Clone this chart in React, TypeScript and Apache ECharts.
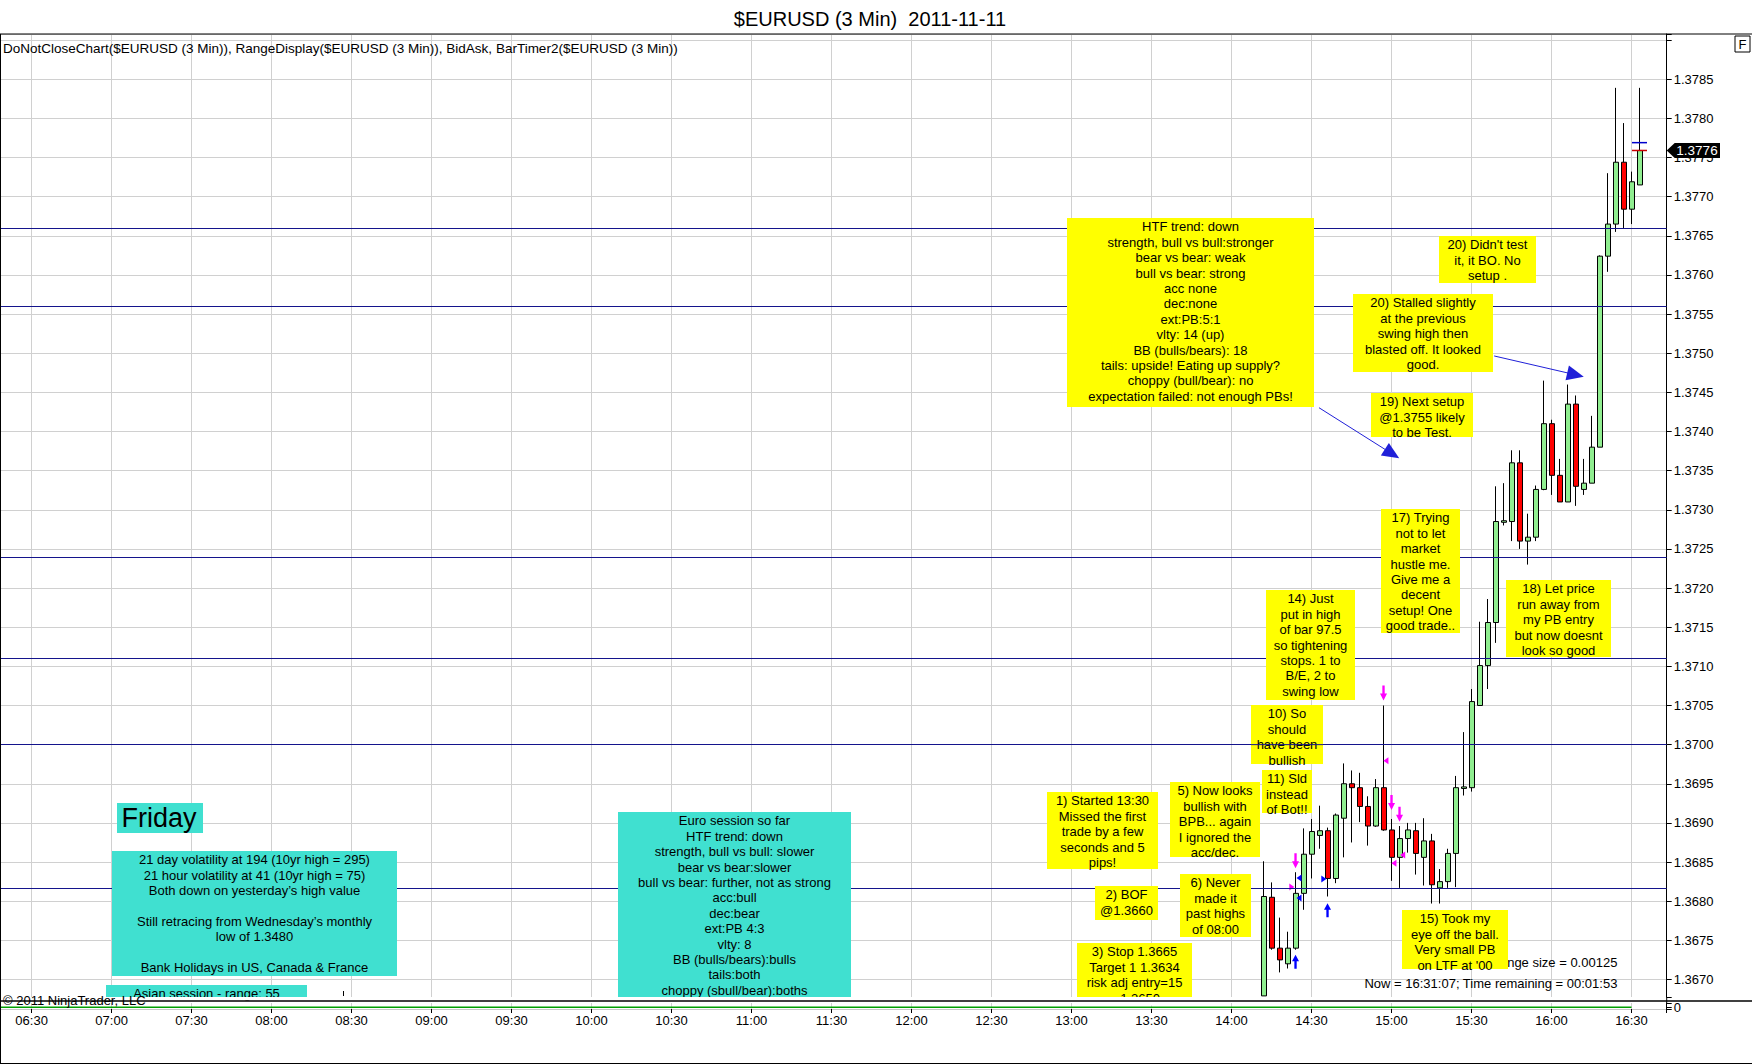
import React, { useEffect, useRef } from 'react';
import * as echarts from 'echarts';

const FONT = "'Liberation Sans', Arial, Helvetica, sans-serif";

// ---------- data ----------
const barTimes = [
  '14:12', '14:15', '14:18', '14:21', '14:24', '14:27', '14:30', '14:33', '14:36', '14:39',
  '14:42', '14:45', '14:48', '14:51', '14:54', '14:57', '15:00', '15:03', '15:06', '15:09',
  '15:12', '15:15', '15:18', '15:21', '15:24', '15:27', '15:30', '15:33', '15:36', '15:39',
  '15:42', '15:45', '15:48', '15:51', '15:54', '15:57', '16:00', '16:03', '16:06', '16:09',
  '16:12', '16:15', '16:18', '16:21', '16:24', '16:27', '16:30', '16:33',
];
const opens = [
  1.36679, 1.36805, 1.36740, 1.36720, 1.36740, 1.36810, 1.36860, 1.36884, 1.36890, 1.36829,
  1.36906, 1.36950, 1.36945, 1.36921, 1.36896, 1.36945, 1.36891, 1.36856, 1.36880, 1.36890,
  1.36856, 1.36877, 1.36817, 1.36825, 1.36861, 1.36944, 1.36945, 1.37050, 1.37101, 1.37156,
  1.37284, 1.37285, 1.37360, 1.37260, 1.37265, 1.37326, 1.37410, 1.37344, 1.37310, 1.37435,
  1.37326, 1.37334, 1.37380, 1.37624, 1.37665, 1.37744, 1.37684, 1.37715,
];
const closes = [
  1.36806, 1.36740, 1.36725, 1.36740, 1.36810, 1.36860, 1.36889, 1.36890, 1.36829, 1.36910,
  1.36950, 1.36945, 1.36921, 1.36896, 1.36945, 1.36891, 1.36856, 1.36880, 1.36891, 1.36861,
  1.36877, 1.36821, 1.36825, 1.36861, 1.36945, 1.36946, 1.37055, 1.37101, 1.37156, 1.37285,
  1.37286, 1.37360, 1.37260, 1.37265, 1.37326, 1.37410, 1.37344, 1.37310, 1.37435, 1.37330,
  1.37334, 1.37380, 1.37624, 1.37665, 1.37744, 1.37684, 1.37719, 1.37759,
];
const lows = [
  1.36679, 1.36738, 1.36709, 1.36714, 1.36738, 1.36789, 1.36829, 1.36867, 1.36806, 1.36823,
  1.36856, 1.36875, 1.36901, 1.36871, 1.36895, 1.36890, 1.36826, 1.36817, 1.36862, 1.36834,
  1.36820, 1.36797, 1.36797, 1.36817, 1.36818, 1.36935, 1.36940, 1.37050, 1.37071, 1.37130,
  1.37280, 1.37260, 1.37250, 1.37230, 1.37260, 1.37325, 1.37319, 1.37310, 1.37310, 1.37305,
  1.37319, 1.37334, 1.37380, 1.37604, 1.37655, 1.37660, 1.37665, 1.37715,
];
const highs = [
  1.36851, 1.36824, 1.36779, 1.36761, 1.36837, 1.36893, 1.36905, 1.36922, 1.36894, 1.36912,
  1.36976, 1.36967, 1.36964, 1.36934, 1.36956, 1.37050, 1.36905, 1.36896, 1.36900, 1.36900,
  1.36906, 1.36886, 1.36841, 1.36867, 1.36960, 1.37016, 1.37071, 1.37157, 1.37186, 1.37330,
  1.37334, 1.37376, 1.37376, 1.37295, 1.37331, 1.37465, 1.37415, 1.37365, 1.37460, 1.37446,
  1.37365, 1.37420, 1.37625, 1.37730, 1.37839, 1.37794, 1.37732, 1.37839,
];

// horizontal levels drawn on the chart
const levels = [1.3766, 1.3756, 1.3724, 1.3711, 1.37, 1.36817];

// arrow annotations: [minutes, price] from -> to
const arrowLines = [
  [[872.8, 1.374304], [900.2, 1.373715]],
  [[938.5, 1.374965], [969.0, 1.374725]],
];

// trade markers [minutes, price]
const magentaDown = [[864, 1.368516], [897, 1.37066], [900, 1.369261], [903, 1.369111]];
const blueUp = [[864, 1.367227], [876, 1.367884]];
const magentaLeft = [[897.9, 1.369795], [900.9, 1.368484], [904.2, 1.36859]];
const magentaRight = [[862.6, 1.368181]];
const blueLeft = [[865.3, 1.368297], [865.3, 1.368041]];
const blueRight = [[874.6, 1.368284]];
const askTick = [[993, 1.37769]];
const bidTick = [[993, 1.37759]];
const zeroLine = [[378.15, 0], [990, 0]];

const noteTexts: string[][] = [
  ['HTF trend: down', 'strength, bull vs bull:stronger', 'bear vs bear: weak', 'bull vs bear: strong', 'acc none', 'dec:none', 'ext:PB:5:1', 'vlty: 14 (up)', 'BB (bulls/bears): 18', 'tails: upside! Eating up supply?', 'choppy (bull/bear): no', 'expectation failed: not enough PBs!'],
  ["20) Didn't test", 'it, it BO. No', 'setup .'],
  ['20) Stalled slightly', 'at the previous', 'swing high then', 'blasted off. It looked', 'good.'],
  ['19) Next setup', '@1.3755 likely', 'to be Test.'],
  ['17) Trying', 'not to let', 'market', 'hustle me.', 'Give me a', 'decent', 'setup! One', 'good trade..'],
  ['18) Let price', 'run away from', 'my PB entry', 'but now doesnt', 'look so good'],
  ['14) Just', 'put in high', 'of bar 97.5', 'so tightening', 'stops. 1 to', 'B/E, 2 to', 'swing low'],
  ['10) So', 'should', 'have been', 'bullish'],
  ['11) Sld', 'instead', 'of Bot!!'],
  ['5) Now looks', 'bullish with', 'BPB... again', 'I ignored the', 'acc/dec.'],
  ['1) Started 13:30', 'Missed the first', 'trade by a few', 'seconds and 5', 'pips!'],
  ['2) BOF', '@1.3660'],
  ['6) Never', 'made it', 'past highs', 'of 08:00'],
  ['3) Stop 1.3665', 'Target 1 1.3634', 'risk adj entry=15', '= 1.3650'],
  ['15) Took my', 'eye off the ball.', 'Very small PB', "on LTF at '00"],
  ['21 day volatility at 194 (10yr high = 295)', '21 hour volatility at 41 (10yr high = 75)', 'Both down on yesterday\u2019s high value', '', 'Still retracing from Wednesday\u2019s monthly', 'low of 1.3480', '', 'Bank Holidays in US, Canada & France'],
  ['Euro session so far', 'HTF trend: down', 'strength, bull vs bull: slower', 'bear vs bear:slower', 'bull vs bear: further, not as strong', 'acc:bull', 'dec:bear', 'ext:PB 4:3', 'vlty: 8', 'BB (bulls/bears):bulls', 'tails:both', 'choppy (sbull/bear):boths'],
  ['Asian session - range: 55'],
];

// ---------- layout (pixels) ----------
const noteBoxes = [
  [1067, 218, 247, 189], [1439, 236, 97, 47], [1353, 294, 140, 78], [1371, 393, 102, 44],
  [1381, 509, 79, 124], [1506, 580, 105, 77], [1266, 590, 89, 110], [1251, 705, 72, 59],
  [1262, 770, 50, 43], [1170, 782, 90, 75], [1047, 792, 111, 77], [1095, 886, 63, 34],
  [1180, 874, 71, 63], [1077, 943, 115, 54], [1402, 910, 106, 59],
  [112, 851, 285, 125], [618, 812, 233, 185], [106, 985, 201, 12],
];
const noteColors = [
  '#FFFF00', '#FFFF00', '#FFFF00', '#FFFF00', '#FFFF00', '#FFFF00', '#FFFF00', '#FFFF00',
  '#FFFF00', '#FFFF00', '#FFFF00', '#FFFF00', '#FFFF00', '#FFFF00', '#FFFF00',
  '#40E0D0', '#40E0D0', '#40E0D0',
];

const X_MIN = 378.15;
const X_MAX = 1003.2;
const Y_MIN = 1.366776;
const Y_MAX = 1.379078;
const PLOT_W = 1666.7;
const GRID_COLOR = '#d0d0d0';

const toMin = (s: string) => {
  const [h, m] = s.split(':').map(Number);
  return h * 60 + m;
};
const fmtTime = (v: number) => {
  const h = Math.floor(v / 60);
  const m = Math.round(v - h * 60);
  return `${String(h).padStart(2, '0')}:${String(m).padStart(2, '0')}`;
};

const txt = (text: string, x: number, y: number, size: number, align: string, valign: string, extra: any = {}) => ({
  type: 'text',
  z: 10,
  silent: true,
  style: {
    text, x, y, fill: '#000', fontSize: size, fontFamily: FONT,
    align, textAlign: align, verticalAlign: valign, textVerticalAlign: valign, ...extra,
  },
});
const hline = (x1: number, y1: number, x2: number, y2: number, color = '#000', w = 1) => ({
  type: 'line', z: 10, silent: true,
  shape: { x1, y1, x2, y2 },
  style: { stroke: color, lineWidth: w },
});

export default function App() {
  const ref = useRef<HTMLDivElement>(null);
  useEffect(() => {
    document.body.style.margin = '0';
    const chart = echarts.init(ref.current as HTMLDivElement, null, { renderer: 'svg' });
    const candleData = barTimes.map((t, i) => [toMin(t), opens[i], closes[i], lows[i], highs[i]]);
    const downArrow = 'path://M3,0L6,0L6,8L9,8L4.5,15L0,8L3,8Z';
    const upArrow = 'path://M4.5,0L9,7L6,7L6,15L3,15L3,7L0,7Z';
    const scatter = (data: number[][], color: string, symbol: string, size: any, rotate = 0) => ({
      type: 'scatter', data, xAxisIndex: 0, yAxisIndex: 0, symbol, symbolSize: size, symbolRotate: rotate,
      itemStyle: { color, opacity: 1 }, z: 4, silent: true, animation: false, emphasis: { disabled: true },
    });
    const xLabelFmt = (v: number) => (Math.abs(v / 30 - Math.round(v / 30)) < 1e-6 ? fmtTime(v) : '');
    const yLabelFmt = (v: number) => {
      const k = v / 0.0005;
      if (Math.abs(k - Math.round(k)) > 1e-4 || v > 1.3787) return '';
      return v.toFixed(4);
    };
    const option: any = {
      animation: false,
      backgroundColor: '#ffffff',
      textStyle: { fontFamily: FONT },
      grid: [
        { left: 0, top: 34, width: PLOT_W, height: 963, outerBoundsMode: 'none', containLabel: false },
        { left: 0, top: 1003, width: PLOT_W, height: 6, outerBoundsMode: 'none', containLabel: false },
      ],
      xAxis: [
        {
          type: 'value', gridIndex: 0, min: X_MIN, max: X_MAX, minInterval: 30, maxInterval: 30,
          axisLine: { show: false }, axisTick: { show: false }, axisLabel: { show: false },
          splitLine: { show: true, lineStyle: { color: GRID_COLOR, width: 1 } },
        },
        {
          type: 'value', gridIndex: 1, min: X_MIN, max: X_MAX, minInterval: 30, maxInterval: 30,
          axisLine: { show: true, onZero: false, lineStyle: { color: '#c8c8c8', width: 1 } },
          axisTick: { show: true, length: 4, lineStyle: { color: '#000' } },
          axisLabel: { show: true, formatter: xLabelFmt, color: '#000', fontSize: 13, fontFamily: FONT, margin: 5 },
          splitLine: { show: true, lineStyle: { color: GRID_COLOR, width: 1 } },
        },
      ],
      yAxis: [
        {
          type: 'value', gridIndex: 0, position: 'right', min: Y_MIN, max: Y_MAX,
          minInterval: 0.0005, maxInterval: 0.0005,
          axisLine: { show: true, lineStyle: { color: '#000', width: 1 } },
          axisTick: { show: true, length: 5, lineStyle: { color: '#000' } },
          axisLabel: { show: true, formatter: yLabelFmt, color: '#000', fontSize: 13, fontFamily: FONT, margin: 7 },
          splitLine: { show: true, showMinLine: false, lineStyle: { color: GRID_COLOR, width: 1 } },
        },
        {
          type: 'value', gridIndex: 1, position: 'right', min: -0.4, max: 1, minInterval: 1, maxInterval: 1,
          axisLine: { show: true, lineStyle: { color: '#000', width: 1 } },
          axisTick: { show: true, length: 5, lineStyle: { color: '#000' } },
          axisLabel: {
            show: true, color: '#000', fontSize: 13, fontFamily: FONT, margin: 7,
            formatter: (v: number) => (Math.abs(v) < 1e-9 ? '0' : ''),
          },
          splitLine: { show: false },
        },
      ],
      series: [
        {
          type: 'candlestick', xAxisIndex: 0, yAxisIndex: 0, data: candleData, barWidth: 5.5,
          silent: true, animation: false, z: 3, emphasis: { disabled: true },
          itemStyle: {
            color: '#90EE90', color0: '#FF0000', borderColor: '#000', borderColor0: '#000',
            borderColorDoji: '#000', borderWidth: 1,
          },
          markLine: {
            silent: true, animation: false, precision: 6, symbol: ['none', 'none'], label: { show: false },
            emphasis: { disabled: true },
            lineStyle: { color: '#14148c', width: 1, type: 'solid' },
            data: [
              ...levels.map((v) => ({ yAxis: v })),
              ...arrowLines.map((a) => [
                { coord: a[0], symbol: 'none', lineStyle: { color: '#2020d8', width: 1, type: 'solid' } },
                { coord: a[1], symbol: 'triangle', symbolSize: [15, 17], itemStyle: { color: '#0000ff' }, lineStyle: { color: '#2020d8', width: 1, type: 'solid' } },
              ]),
            ],
          },
        },
        scatter(magentaDown, '#FF00FF', downArrow, [7, 15]),
        scatter(blueUp, '#0000FF', upArrow, [7, 14]),
        scatter(magentaLeft, '#FF00FF', 'triangle', [7, 5], 90),
        scatter(magentaRight, '#FF00FF', 'triangle', [7, 5], -90),
        scatter(blueLeft, '#0000FF', 'triangle', [7, 5], 90),
        scatter(blueRight, '#0000FF', 'triangle', [7, 5], -90),
        scatter(askTick, '#0000CC', 'rect', [15, 1.5]),
        scatter(bidTick, '#CC0000', 'rect', [15, 1.5]),
        {
          type: 'line', xAxisIndex: 1, yAxisIndex: 1, data: zeroLine, symbol: 'none', silent: true,
          lineStyle: { color: '#00a000', width: 1.5 }, animation: false,
        },
      ],
    };
    chart.setOption(option);

    const yLast = chart.convertToPixel({ yAxisIndex: 0 } as any, closes[closes.length - 1]) as number;
    const y1370 = chart.convertToPixel({ yAxisIndex: 0 } as any, 1.37) as number;

    const g: any[] = [];
    // frame
    g.push(hline(0, 34, 1752, 34, '#000', 1));
    g.push(hline(0.5, 34, 0.5, 1063, '#000', 1));
    g.push(hline(0, 1063.5, 1752, 1063.5, '#000', 1));
    g.push(hline(PLOT_W, 997, PLOT_W, 1003, '#000', 1));
    // title & indicators
    g.push(txt('$EURUSD (3 Min)  2011-11-11', 870, 18.5, 20, 'center', 'middle'));
    g.push(txt('DoNotCloseChart($EURUSD (3 Min)), RangeDisplay($EURUSD (3 Min)), BidAsk, BarTimer2($EURUSD (3 Min))', 3, 48, 13.5, 'left', 'middle'));
    // bottom-right status texts (under note 15)
    g.push(txt('Range size = 0.00125', 1617.4, 962.7, 13, 'right', 'middle'));
    g.push(txt('Now = 16:31:07; Time remaining = 00:01:53', 1617.4, 983.3, 13, 'right', 'middle'));
    // notes
    noteTexts.forEach((lines, i) => {
      const [x, y, w, h] = noteBoxes[i];
      g.push({ type: 'rect', z: 10, silent: true, shape: { x, y, width: w, height: h }, style: { fill: noteColors[i] } });
      g.push(txt(lines.join('\n'), x + w / 2, y + 1.1, 13, 'center', 'top', { lineHeight: 15.4 }));
    });
    // Friday label
    g.push({ type: 'rect', z: 10, silent: true, shape: { x: 117, y: 803, width: 86, height: 30 }, style: { fill: '#40E0D0' } });
    g.push(txt('Friday', 159, 817.5, 27, 'center', 'middle'));
    // level line drawn over note 10
    g.push(hline(1251, y1370, 1323, y1370, '#14148c', 1));
    // plot bottom clip strip
    g.push({ type: 'rect', z: 10, silent: true, shape: { x: 1, y: 997, width: 1257, height: 3.4 }, style: { fill: '#fff' } });
    g.push({ type: 'rect', z: 10, silent: true, shape: { x: 1076, y: 997, width: 117, height: 8.5 }, style: { fill: '#fff' } });
    g.push(hline(0, 1001, 1752, 1001, '#000', 1.5));
    g.push(hline(343.5, 991, 343.5, 996, '#000', 1));
    g.push(txt('\u00A9 2011 NinjaTrader, LLC', 3, 1000.7, 13, 'left', 'middle'));
    // last price marker
    g.push({
      type: 'polygon', z: 11, silent: true,
      shape: { points: [[PLOT_W, yLast], [PLOT_W + 8, yLast - 7.5], [1720, yLast - 7.5], [1720, yLast + 7.5], [PLOT_W + 8, yLast + 7.5]] },
      style: { fill: '#000' },
    });
    g.push({ ...txt('1.3776', 1697, yLast, 13.5, 'center', 'middle', { fill: '#fff' }), z: 12 });
    // F box
    g.push({ type: 'rect', z: 10, silent: true, shape: { x: 1735, y: 36, width: 15, height: 16 }, style: { fill: '#fff', stroke: '#000', lineWidth: 1 } });
    g.push(txt('F', 1742.5, 44.5, 13, 'center', 'middle'));

    chart.setOption({ graphic: { elements: g } });
    return () => chart.dispose();
  }, []);
  return <div ref={ref} style={{ width: 1752, height: 1064 }} />;
}
